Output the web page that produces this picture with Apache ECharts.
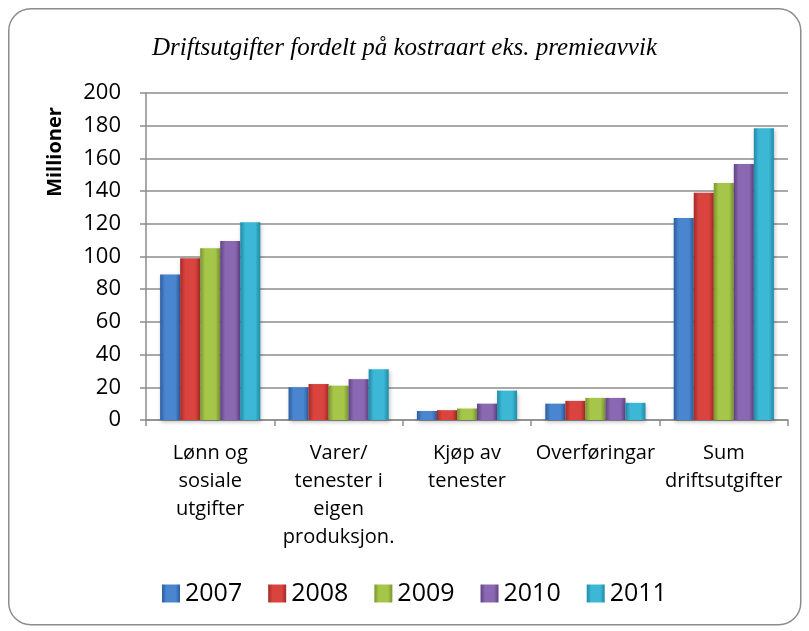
<!DOCTYPE html>
<html>
<head>
<meta charset="utf-8">
<script src="https://cdn.jsdelivr.net/npm/echarts@6/dist/echarts.min.js"></script>
<style>html,body{margin:0;padding:0;background:#fff}#c{width:809px;height:631px}</style>
</head>
<body>
<div id="c"></div>
<script>
const categories = ['Lønn og\nsosiale\nutgifter', 'Varer/\ntenester i\neigen\nproduksjon.', 'Kjøp av\ntenester', 'Overføringar', 'Sum\ndriftsutgifter'];
const years = ['2007', '2008', '2009', '2010', '2011'];
const v2007 = [89, 20, 5.5, 10, 123.5];
const v2008 = [99, 22, 6, 11.7, 139];
const v2009 = [105, 21, 7, 13.5, 145];
const v2010 = [109.5, 25, 10, 13.5, 156.5];
const v2011 = [121, 31, 18, 10.5, 178.5];
const yTicks = [0, 20, 40, 60, 80, 100, 120, 140, 160, 180, 200];

const values = [v2007, v2008, v2009, v2010, v2011];
const palette = [
  ['#2C5C9E', '#4A86D0', '#2C5C9E'],
  ['#A52A27', '#D9443F', '#A52A27'],
  ['#7A9630', '#A6C64A', '#7A9630'],
  ['#5E4381', '#8A68B2', '#5E4381'],
  ['#1F8AA6', '#3CB8D6', '#1F8AA6']
];
function grad(c) {
  return new echarts.graphic.LinearGradient(0, 0, 1, 0, [
    {offset: 0, color: c[0]}, {offset: 0.25, color: c[1]}, {offset: 0.75, color: c[1]}, {offset: 1, color: c[2]}
  ]);
}
const chart = echarts.init(document.getElementById('c'), null, {renderer: 'canvas'});
const font = '"Open Sans", sans-serif';
chart.setOption({
  animation: false,
  backgroundColor: '#ffffff',
  graphic: [{
    type: 'rect', left: 8, top: 8, z: -10,
    shape: {width: 792, height: 616, r: 22},
    style: {fill: '#fff', stroke: '#8c8c8c', lineWidth: 1.5}
  }, {
    type: 'text', x: 55, y: 152, rotation: Math.PI / 2, z: 10,
    style: {text: 'Millioner', font: 'bold 20px "Open Sans", sans-serif', fill: '#000', align: 'center', verticalAlign: 'middle'}
  }],
  title: {
    text: 'Driftsutgifter fordelt på kostraart eks. premieavvik',
    left: 'center', top: 31,
    textStyle: {fontFamily: '"Liberation Serif", serif', fontStyle: 'italic', fontWeight: 'normal', fontSize: 25, color: '#000'}
  },
  legend: {
    data: years, bottom: 20, left: 157, itemWidth: 18, itemHeight: 18, itemGap: 26,
    textStyle: {fontFamily: font, fontSize: 25, color: '#000'},
    icon: 'rect'
  },
  grid: {left: 146, right: 21, top: 93, bottom: 211},
  xAxis: {
    type: 'category', data: categories,
    axisLine: {lineStyle: {color: '#8c8c8c', width: 1.5}},
    axisTick: {show: true, length: 6, lineStyle: {color: '#8c8c8c', width: 1.5}},
    axisLabel: {interval: 0, margin: 19, fontFamily: font, fontSize: 20, lineHeight: 28, color: '#000', align: 'center'}
  },
  yAxis: {
    type: 'value', min: 0, max: 200, interval: 20,
    axisLine: {show: true, lineStyle: {color: '#8c8c8c', width: 1.5}},
    axisTick: {show: true, length: 6, lineStyle: {color: '#8c8c8c', width: 1.5}},
    axisLabel: {margin: 25, fontFamily: font, fontSize: 22, color: '#000',
      formatter: function (v) { return yTicks.indexOf(v) >= 0 ? String(v) : ''; }},
    splitLine: {lineStyle: {color: '#8c8c8c', width: 1.5}}
  },
  series: years.map((y, i) => ({
    name: y, type: 'bar', data: values[i],
    barGap: '0%', barCategoryGap: '22%',
    itemStyle: {color: grad(palette[i]), shadowColor: 'rgba(0,0,0,0.25)', shadowBlur: 4, shadowOffsetX: 1, shadowOffsetY: 2}
  }))
});
</script>
</body>
</html>
